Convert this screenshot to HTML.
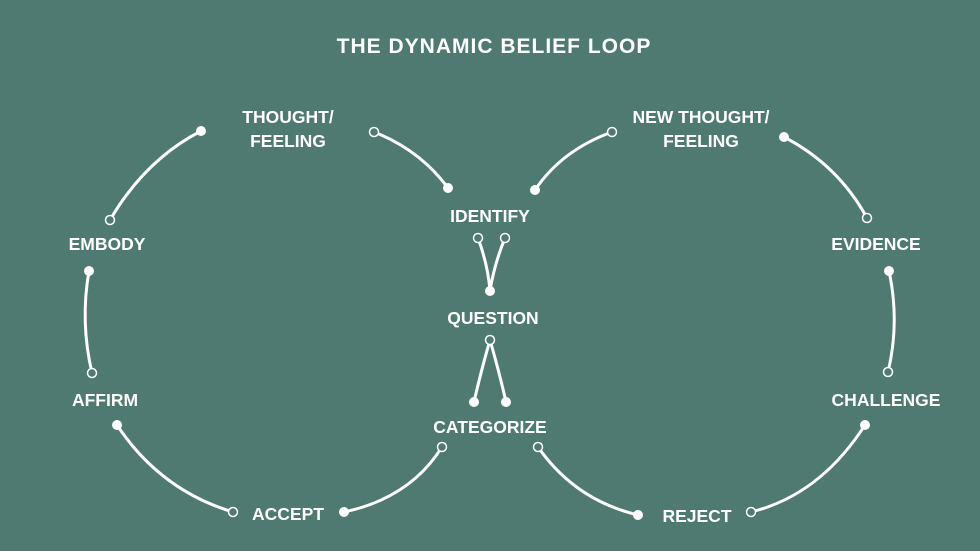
<!DOCTYPE html>
<html><head><meta charset="utf-8"><style>
html,body{margin:0;padding:0;background:#4e7a72;}
svg{display:block}
text{font-family:"Liberation Sans",sans-serif;font-weight:bold;fill:#fff;text-anchor:middle;font-size:17.5px}
.c{fill:none;stroke:#fff;stroke-width:3;stroke-linecap:round}
.f{fill:#fff}
.h{fill:#4e7a72;stroke:#fff;stroke-width:1.5}
</style></head><body>
<svg width="980" height="551" viewBox="0 0 980 551">
<rect width="980" height="551" fill="#4e7a72"/>
<text x="494" y="53" style="font-size:21px;letter-spacing:1px">THE DYNAMIC BELIEF LOOP</text>
<text x="288" y="123">THOUGHT/</text><text x="288" y="147">FEELING</text>
<text x="701" y="123">NEW THOUGHT/</text><text x="701" y="147">FEELING</text>
<text x="490" y="222">IDENTIFY</text>
<text x="493" y="324">QUESTION</text>
<text x="490" y="433">CATEGORIZE</text>
<text x="107" y="250">EMBODY</text>
<text x="105" y="406">AFFIRM</text>
<text x="288" y="520">ACCEPT</text>
<text x="876" y="250">EVIDENCE</text>
<text x="886" y="406">CHALLENGE</text>
<text x="697" y="522">REJECT</text>
<path class="c" d="M110,220 Q145,160 201,131"/>
<path class="c" d="M374,132 Q420,150 448,188"/>
<path class="c" d="M89,271 Q80,322 92,373"/>
<path class="c" d="M117,425 Q160,490 233,512"/>
<path class="c" d="M344,512 Q410,498 442,447"/>
<path class="c" d="M478,238 Q488,265 490,291"/>
<path class="c" d="M505,238 Q494,265 490,291"/>
<path class="c" d="M490,340 Q480,375 474,402"/>
<path class="c" d="M490,340 Q500,375 506,402"/>
<path class="c" d="M612,132 Q562,150 535,190"/>
<path class="c" d="M784,137 Q838,165 867,218"/>
<path class="c" d="M889,271 Q900,322 888,372"/>
<path class="c" d="M865,425 Q820,495 751,512"/>
<path class="c" d="M538,447 Q575,500 638,515"/>
<g class="f">
<circle cx="201" cy="131" r="5"/><circle cx="448" cy="188" r="5"/><circle cx="89" cy="271" r="5"/>
<circle cx="117" cy="425" r="5"/><circle cx="344" cy="512" r="5"/><circle cx="490" cy="291" r="5"/>
<circle cx="474" cy="402" r="5"/><circle cx="506" cy="402" r="5"/><circle cx="535" cy="190" r="5"/>
<circle cx="784" cy="137" r="5"/><circle cx="889" cy="271" r="5"/><circle cx="865" cy="425" r="5"/>
<circle cx="638" cy="515" r="5"/>
</g>
<g class="h">
<circle cx="110" cy="220" r="4.5"/><circle cx="374" cy="132" r="4.5"/><circle cx="92" cy="373" r="4.5"/>
<circle cx="233" cy="512" r="4.5"/><circle cx="442" cy="447" r="4.5"/><circle cx="478" cy="238" r="4.5"/>
<circle cx="505" cy="238" r="4.5"/><circle cx="490" cy="340" r="4.5"/><circle cx="612" cy="132" r="4.5"/>
<circle cx="867" cy="218" r="4.5"/><circle cx="888" cy="372" r="4.5"/><circle cx="751" cy="512" r="4.5"/>
<circle cx="538" cy="447" r="4.5"/>
</g>
</svg>
</body></html>
